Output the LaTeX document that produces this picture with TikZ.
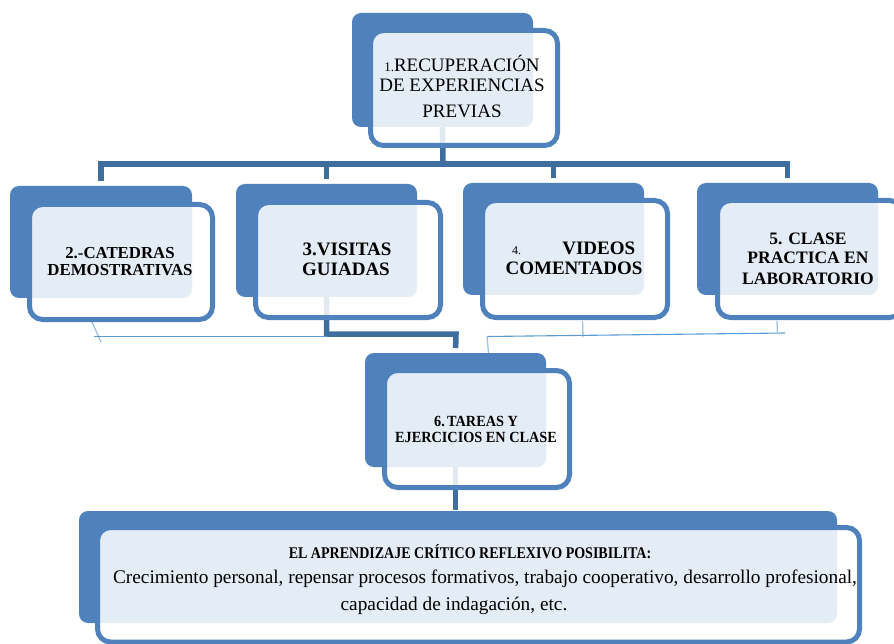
\documentclass[tikz,border=0pt]{standalone}
\usepackage{fontspec}
\setmainfont{Liberation Serif}
\usetikzlibrary{backgrounds}
\definecolor{boxblue}{HTML}{4F81BD}
\definecolor{connblue}{HTML}{3E6E9E}
\definecolor{thinblue}{HTML}{5B9BD5}
\definecolor{thinlight}{HTML}{9DC3E6}
\tikzset{
  backbox/.style={draw=none, fill=boxblue, rounded corners=9pt, inner sep=0pt, outer sep=0pt},
  frontbox/.style={draw=boxblue, line width=5pt, fill=white, fill opacity=0.85, draw opacity=1, rounded corners=13pt, inner sep=0pt, outer sep=0pt},
  conn/.style={draw=connblue, line width=5.5pt},
  thinline/.style={draw=thinblue, line width=1.1pt},
  thinstub/.style={draw=thinlight, line width=1.3pt},
  txt/.style={anchor=base, inner sep=0pt, text=black},
}
\newcommand\duobox[9]{%
  \node[backbox, minimum width={(#4-#2)*1pt}, minimum height={(#5-#3)*1pt}] (#1back) at ({(#2+#4)/2},{(#3+#5)/2}) {};
  \node[frontbox, minimum width={(#8-#6)*1pt}, minimum height={(#9-#7)*1pt}] (#1) at ({(#6+#8)/2},{(#7+#9)/2}) {};
}
\newcommand\fs[1]{\fontsize{#1}{#1}\selectfont}
\begin{document}
\begin{tikzpicture}[x=1pt,y=-1pt]
\useasboundingbox (0,0) rectangle (894,644);
% boxes
\duobox{b1}{352}{13}{533}{127}{370.5}{30.5}{557.5}{145.5}
\duobox{b2}{10}{186}{192}{298}{29.5}{204.5}{212.5}{319.5}
\duobox{b3}{236}{184}{417}{297}{255.5}{202.5}{440.5}{317.5}
\duobox{b4}{463}{183}{644}{295}{482.5}{200.5}{667.5}{317.5}
\duobox{b5}{697}{183}{878}{295}{717.5}{200.5}{902.5}{317.5}
\duobox{b6}{365}{353}{546}{467}{384.5}{370.5}{569.5}{487.5}
\duobox{b7}{79}{511}{837}{623}{97.5}{527.5}{859.5}{642}
% connectors behind
\coordinate (bus) at (443,164);
\coordinate (bus2) at (456,334);
\begin{scope}[on background layer]
  \draw[conn] (b1back.south) -- (bus);
  \draw[conn, shorten >=5pt] (bus) -| (b2back.north);
  \draw[conn, shorten >=5pt] (bus) -| (b3back.north);
  \draw[conn, shorten >=5pt] (bus) -| (b4back.north);
  \draw[conn, shorten >=5pt] (bus) -| (b5back.north);
  \draw[conn, shorten >=5pt] (b3back.south) |- (bus2) -- (b6back.north);
  \draw[conn, shorten >=1pt] (b6back.south) -- (b6back.south |- b7back.north);
  % thin lines
  \coordinate (l1a) at (92,322);
  \coordinate (l1b) at (101,342);
  \coordinate (l2a) at (94,336.5);
  \coordinate (l2b) at (327,336.5);
  \coordinate (r1a) at (582.5,321);
  \coordinate (r1b) at (583,337);
  \coordinate (r2a) at (487,336.5);
  \coordinate (r2b) at (785,333);
  \coordinate (r3a) at (777,321);
  \coordinate (r3b) at (777.5,334);
  \coordinate (r4b) at (489,358);
  \draw[thinstub] (l1a) -- (l1b);
  \draw[thinline] (l2a) -- (l2b);
  \draw[thinstub] (r1a) -- (r1b);
  \draw[thinline] (r2a) -- (r2b);
  \draw[thinstub] (r3a) -- (r3b);
  \draw[thinstub] (r2a) -- (r4b);
\end{scope}
% texts
\node[txt] (t1a) at (462,72) {\fs{19}{\fs{13}1.}RECUPERACIÓN};
\node[txt] (t1b) at (462,92) {\fs{19}DE EXPERIENCIAS};
\node[txt] (t1c) at (462,118) {\fs{19}PREVIAS};
\node[txt] (t2a) at (120,259) {\fs{16.8}\bfseries 2.-CATEDRAS};
\node[txt] (t2b) at (120,276) {\fs{16.8}\bfseries DEMOSTRATIVAS};
\node[txt] (t3a) at (347,256) {\fs{19}\bfseries 3.VISITAS};
\node[txt] (t3b) at (346,276) {\fs{19}\bfseries GUIADAS};
\node[txt, anchor=base west] (t4a) at (512,255) {\fs{19}\makebox[123pt][l]{{\fs{12}4.}\hfill\bfseries VIDEOS}};
\node[txt] (t4b) at (574,275) {\fs{19}\bfseries COMENTADOS};
\node[txt] (t5a) at (808,245) {\fs{17.5}\bfseries 5. CLASE};
\node[txt] (t5b) at (808,264) {\fs{17.5}\bfseries PRACTICA EN};
\node[txt] (t5c) at (808,284) {\fs{17.5}\bfseries LABORATORIO};
\node[txt] (t6a) at (476,426) {\scalebox{0.92}[1]{\fs{15.5}\bfseries 6.\,TAREAS Y}};
\node[txt] (t6b) at (476,442) {\scalebox{0.92}[1]{\fs{15.5}\bfseries EJERCICIOS EN CLASE}};
\node[txt] (t7a) at (470,558) {\scalebox{0.86}[1]{\fs{16.3}\bfseries EL APRENDIZAJE CRÍTICO REFLEXIVO POSIBILITA:}};
\node[txt] (t7b) at (485,583) {\fs{19.3}Crecimiento personal, repensar procesos formativos, trabajo cooperativo, desarrollo profesional,};
\node[txt] (t7c) at (454,610) {\fs{19.3}capacidad de indagación, etc.};
\end{tikzpicture}
\end{document}
